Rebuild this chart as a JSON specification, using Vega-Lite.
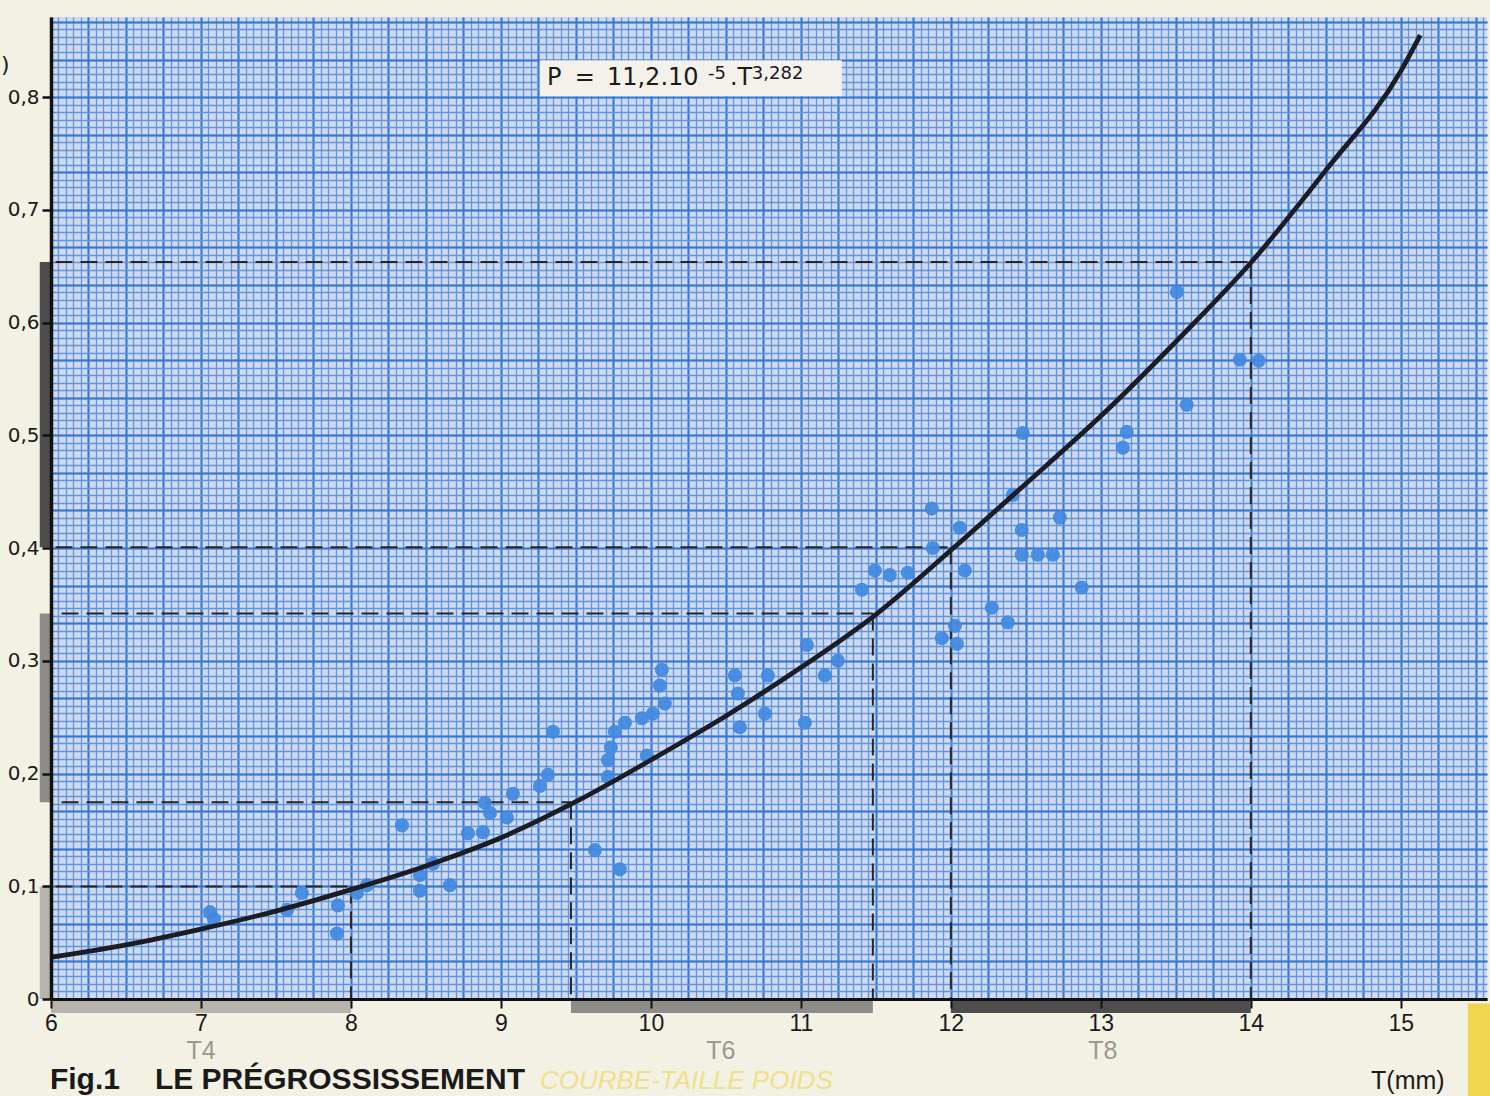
{
  "$schema": "https://vega.github.io/schema/vega-lite/v6.json",
  "width": 1436,
  "height": 982,
  "autosize": {"type": "none"},
  "padding": {"left": 51, "top": 17, "right": 3, "bottom": 97},
  "background": "#f3f0e4",
  "config": {"view": {"fill": "#cfdaf0", "stroke": null}},
  "datasets": {
    "points": [
      {"T": 7.06, "P": 0.077}, {"T": 7.087, "P": 0.071}, {"T": 7.573, "P": 0.079}, {"T": 7.673, "P": 0.094},
      {"T": 7.913, "P": 0.083}, {"T": 7.907, "P": 0.058}, {"T": 8.04, "P": 0.094}, {"T": 8.107, "P": 0.101},
      {"T": 8.34, "P": 0.154}, {"T": 8.46, "P": 0.11}, {"T": 8.46, "P": 0.096}, {"T": 8.547, "P": 0.12},
      {"T": 8.66, "P": 0.101}, {"T": 8.78, "P": 0.147}, {"T": 8.88, "P": 0.148}, {"T": 8.893, "P": 0.174},
      {"T": 8.927, "P": 0.165}, {"T": 9.04, "P": 0.161}, {"T": 9.08, "P": 0.182}, {"T": 9.26, "P": 0.189},
      {"T": 9.313, "P": 0.199}, {"T": 9.347, "P": 0.237}, {"T": 9.627, "P": 0.132}, {"T": 9.793, "P": 0.115},
      {"T": 9.713, "P": 0.197}, {"T": 9.713, "P": 0.212}, {"T": 9.733, "P": 0.223}, {"T": 9.76, "P": 0.237},
      {"T": 9.827, "P": 0.245}, {"T": 9.94, "P": 0.249}, {"T": 9.973, "P": 0.216}, {"T": 10.013, "P": 0.253},
      {"T": 10.093, "P": 0.262}, {"T": 10.06, "P": 0.278}, {"T": 10.073, "P": 0.292}, {"T": 10.56, "P": 0.287},
      {"T": 10.58, "P": 0.271}, {"T": 10.593, "P": 0.241}, {"T": 10.76, "P": 0.253}, {"T": 10.78, "P": 0.287},
      {"T": 11.027, "P": 0.245}, {"T": 11.04, "P": 0.314}, {"T": 11.16, "P": 0.287}, {"T": 11.247, "P": 0.3},
      {"T": 11.407, "P": 0.363}, {"T": 11.493, "P": 0.38}, {"T": 11.593, "P": 0.376}, {"T": 11.713, "P": 0.378},
      {"T": 11.873, "P": 0.435}, {"T": 11.88, "P": 0.4}, {"T": 11.94, "P": 0.32}, {"T": 12.027, "P": 0.331},
      {"T": 12.04, "P": 0.315}, {"T": 12.06, "P": 0.418}, {"T": 12.093, "P": 0.38}, {"T": 12.273, "P": 0.347},
      {"T": 12.38, "P": 0.334}, {"T": 12.413, "P": 0.447}, {"T": 12.473, "P": 0.416}, {"T": 12.473, "P": 0.394},
      {"T": 12.48, "P": 0.502}, {"T": 12.58, "P": 0.394}, {"T": 12.68, "P": 0.394}, {"T": 12.727, "P": 0.427},
      {"T": 12.873, "P": 0.365}, {"T": 13.147, "P": 0.489}, {"T": 13.173, "P": 0.503}, {"T": 13.507, "P": 0.627},
      {"T": 13.573, "P": 0.527}, {"T": 13.927, "P": 0.567}, {"T": 14.053, "P": 0.566}
    ],
    "curve": [
      {"T": 6.0, "P": 0.037}, {"T": 6.5, "P": 0.048}, {"T": 7.0, "P": 0.062}, {"T": 7.5, "P": 0.078},
      {"T": 8.0, "P": 0.097}, {"T": 8.5, "P": 0.118}, {"T": 9.0, "P": 0.143}, {"T": 9.5, "P": 0.175},
      {"T": 10.0, "P": 0.212}, {"T": 10.5, "P": 0.251}, {"T": 11.0, "P": 0.294}, {"T": 11.5, "P": 0.341},
      {"T": 12.0, "P": 0.398}, {"T": 12.5, "P": 0.457}, {"T": 13.0, "P": 0.517}, {"T": 13.5, "P": 0.583},
      {"T": 14.0, "P": 0.653}, {"T": 14.5, "P": 0.735}, {"T": 15.0, "P": 0.823}, {"T": 15.13, "P": 0.855}
    ],
    "hdash": [
      {"T1": 6.03, "T2": 8.0, "P": 0.0998}, {"T1": 6.07, "T2": 9.467, "P": 0.1744},
      {"T1": 6.07, "T2": 11.48, "P": 0.342}, {"T1": 6.03, "T2": 12.0, "P": 0.4006},
      {"T1": 6.03, "T2": 14.0, "P": 0.6536}
    ],
    "vdash": [
      {"T": 8.0, "P": 0.0998}, {"T": 9.467, "P": 0.1744}, {"T": 11.48, "P": 0.342},
      {"T": 12.0, "P": 0.4006}, {"T": 14.0, "P": 0.6536}
    ],
    "bottomBands": [
      {"cls": "T4", "T1": 6.0, "T2": 8.0}, {"cls": "T6", "T1": 9.467, "T2": 11.48}, {"cls": "T8", "T1": 12.0, "T2": 14.0}
    ],
    "leftBands": [
      {"cls": "T4", "P1": 0.0, "P2": 0.0998}, {"cls": "T6", "P1": 0.1744, "P2": 0.342}, {"cls": "T8", "P1": 0.4006, "P2": 0.6536}
    ],
    "classLabels": [
      {"cls": "T4", "T": 7.0}, {"cls": "T6", "T": 10.467}, {"cls": "T8", "T": 13.013}
    ],
    "eqMain": [
      {"s": "P", "T": 9.307}, {"s": "=", "T": 9.493}, {"s": "11,2.10", "T": 9.707}, {"s": ".T", "T": 10.527}
    ],
    "eqSup": [
      {"s": "-5", "T": 10.38}, {"s": "3,282", "T": 10.673}
    ],
    "titleBold": [
      {"s": "Fig.1", "T": 5.993}, {"s": "LE PRÉGROSSISSEMENT", "T": 6.693}
    ]
  },
  "layer": [
    {
      "data": {"name": "points"},
      "mark": {"type": "point", "opacity": 0},
      "encoding": {
        "x": {"field": "T", "type": "quantitative", "scale": {"domain": [6, 15.575], "nice": false, "zero": false},
              "axis": {"orient": "bottom", "values": [6, 7, 8, 9, 10, 11, 12, 13, 14, 15], "title": null, "grid": false,
                       "domainColor": "#111111", "domainWidth": 3, "tickColor": "#111111", "tickWidth": 2, "tickSize": 9,
                       "labelFont": "Liberation Sans", "labelFontSize": 23, "labelColor": "#1a1a1a", "labelPadding": 4,
                       "labelFlush": false, "labelOverlap": false, "zindex": 1}},
        "y": {"field": "P", "type": "quantitative", "scale": {"domain": [0, 0.871], "nice": false, "zero": false},
              "axis": {"orient": "left", "values": [0, 0.1, 0.2, 0.3, 0.4, 0.5, 0.6, 0.7, 0.8], "title": null, "grid": false,
                       "domainColor": "#111111", "domainWidth": 3.5, "tickColor": "#111111", "tickWidth": 2.5, "tickSize": 9,
                       "labelExpr": "datum.value == 0 ? '0' : replace(format(datum.value, '.1f'), '.', ',')",
                       "labelFont": "DejaVu Sans", "labelFontSize": 20, "labelColor": "#1a1a1a", "labelPadding": 3,
                       "labelFlush": false, "labelOverlap": false, "zindex": 1}}
      }
    },
    {
      "data": {"name": "points"},
      "mark": {"type": "point", "opacity": 0},
      "encoding": {
        "x": {"field": "T", "type": "quantitative",
              "axis": {"orient": "bottom", "tickCount": 192, "grid": true, "gridColor": "#6196dc", "gridWidth": 1.3, "gridOpacity": 1,
                       "labels": false, "ticks": false, "domain": false, "title": null, "zindex": 0}},
        "y": {"field": "P", "type": "quantitative",
              "axis": {"orient": "left", "grid": true, "gridColor": "#6196dc", "gridWidth": 1.3, "gridOpacity": 1,
                       "labels": false, "ticks": false, "domain": false, "title": null, "zindex": 0,
                       "values": [0,0.0067,0.0133,0.02,0.0267,0.0333,0.04,0.0467,0.0533,0.06,0.0667,0.0733,0.08,0.0867,0.0933,
                                  0.1,0.1067,0.1133,0.12,0.1267,0.1333,0.14,0.1467,0.1533,0.16,0.1667,0.1733,0.18,0.1867,0.1933,
                                  0.2,0.2067,0.2133,0.22,0.2267,0.2333,0.24,0.2467,0.2533,0.26,0.2667,0.2733,0.28,0.2867,0.2933,
                                  0.3,0.3067,0.3133,0.32,0.3267,0.3333,0.34,0.3467,0.3533,0.36,0.3667,0.3733,0.38,0.3867,0.3933,
                                  0.4,0.4067,0.4133,0.42,0.4267,0.4333,0.44,0.4467,0.4533,0.46,0.4667,0.4733,0.48,0.4867,0.4933,
                                  0.5,0.5067,0.5133,0.52,0.5267,0.5333,0.54,0.5467,0.5533,0.56,0.5667,0.5733,0.58,0.5867,0.5933,
                                  0.6,0.6067,0.6133,0.62,0.6267,0.6333,0.64,0.6467,0.6533,0.66,0.6667,0.6733,0.68,0.6867,0.6933,
                                  0.7,0.7067,0.7133,0.72,0.7267,0.7333,0.74,0.7467,0.7533,0.76,0.7667,0.7733,0.78,0.7867,0.7933,
                                  0.8,0.8067,0.8133,0.82,0.8267,0.8333,0.84,0.8467,0.8533,0.86,0.8667]}}
      }
    },
    {
      "data": {"name": "points"},
      "mark": {"type": "point", "opacity": 0},
      "encoding": {
        "x": {"field": "T", "type": "quantitative",
              "axis": {"orient": "bottom", "grid": true, "gridColor": "#3777cf", "gridWidth": 2, "gridOpacity": 1,
                       "labels": false, "ticks": false, "domain": false, "title": null, "zindex": 0,
                       "values": [6,6.25,6.5,6.75,7,7.25,7.5,7.75,8,8.25,8.5,8.75,9,9.25,9.5,9.75,10,10.25,10.5,10.75,11,11.25,11.5,11.75,12,12.25,12.5,12.75,13,13.25,13.5,13.75,14,14.25,14.5,14.75,15,15.25,15.5]}},
        "y": {"field": "P", "type": "quantitative",
              "axis": {"orient": "left", "grid": true, "gridColor": "#3777cf", "gridWidth": 2, "gridOpacity": 1,
                       "labels": false, "ticks": false, "domain": false, "title": null, "zindex": 0,
                       "values": [0,0.0333,0.0667,0.1,0.1333,0.1667,0.2,0.2333,0.2667,0.3,0.3333,0.3667,0.4,0.4333,0.4667,0.5,0.5333,0.5667,0.6,0.6333,0.6667,0.7,0.7333,0.7667,0.8,0.8333,0.8667]}}
      }
    },
    {
      "data": {"name": "bottomBands"},
      "mark": {"type": "rect"},
      "encoding": {
        "x": {"field": "T1", "type": "quantitative", "axis": null},
        "x2": {"field": "T2"},
        "y": {"datum": 0, "type": "quantitative", "axis": null},
        "y2": {"datum": -0.0125},
        "color": {"field": "cls", "type": "nominal", "scale": {"domain": ["T4", "T6", "T8"], "range": ["#b7b4ae", "#8e8c89", "#4e4d4d"]}, "legend": null}
      }
    },
    {
      "data": {"name": "leftBands"},
      "mark": {"type": "rect"},
      "encoding": {
        "x": {"datum": 5.925, "type": "quantitative", "axis": null},
        "x2": {"datum": 6.0},
        "y": {"field": "P1", "type": "quantitative", "axis": null},
        "y2": {"field": "P2"},
        "color": {"field": "cls", "type": "nominal", "legend": null}
      }
    },
    {
      "data": {"name": "hdash"},
      "mark": {"type": "rule", "color": "#262626", "strokeWidth": 2, "strokeDash": [17, 8]},
      "encoding": {
        "x": {"field": "T1", "type": "quantitative", "axis": null},
        "x2": {"field": "T2"},
        "y": {"field": "P", "type": "quantitative", "axis": null}
      }
    },
    {
      "data": {"name": "vdash"},
      "mark": {"type": "rule", "color": "#262626", "strokeWidth": 2, "strokeDash": [17, 8]},
      "encoding": {
        "x": {"field": "T", "type": "quantitative", "axis": null},
        "y": {"field": "P", "type": "quantitative", "axis": null},
        "y2": {"datum": 0}
      }
    },
    {
      "data": {"name": "points"},
      "mark": {"type": "circle", "size": 200, "color": "#4189df", "opacity": 0.92},
      "encoding": {
        "x": {"field": "T", "type": "quantitative", "axis": null},
        "y": {"field": "P", "type": "quantitative", "axis": null}
      }
    },
    {
      "data": {"name": "curve"},
      "mark": {"type": "line", "color": "#1c1d24", "strokeWidth": 4.8, "interpolate": "monotone"},
      "encoding": {
        "x": {"field": "T", "type": "quantitative", "axis": null},
        "y": {"field": "P", "type": "quantitative", "axis": null}
      }
    },
    {
      "data": {"values": [{}]},
      "mark": {"type": "rect", "color": "#f3f1ea"},
      "encoding": {
        "x": {"datum": 9.26, "type": "quantitative", "axis": null},
        "x2": {"datum": 11.273},
        "y": {"datum": 0.8327, "type": "quantitative", "axis": null},
        "y2": {"datum": 0.8008}
      }
    },
    {
      "data": {"name": "eqMain"},
      "mark": {"type": "text", "font": "DejaVu Sans", "fontSize": 24, "color": "#1a1a1a", "align": "left", "baseline": "alphabetic"},
      "encoding": {
        "x": {"field": "T", "type": "quantitative", "axis": null},
        "y": {"datum": 0.8106, "type": "quantitative", "axis": null},
        "text": {"field": "s"}
      }
    },
    {
      "data": {"name": "eqSup"},
      "mark": {"type": "text", "font": "DejaVu Sans", "fontSize": 18, "color": "#1a1a1a", "align": "left", "baseline": "alphabetic"},
      "encoding": {
        "x": {"field": "T", "type": "quantitative", "axis": null},
        "y": {"datum": 0.8159, "type": "quantitative", "axis": null},
        "text": {"field": "s"}
      }
    },
    {
      "data": {"name": "classLabels"},
      "mark": {"type": "text", "font": "Liberation Sans", "fontSize": 25, "color": "#9a9893", "align": "center", "baseline": "alphabetic"},
      "encoding": {
        "x": {"field": "T", "type": "quantitative", "axis": null},
        "y": {"datum": -0.0528, "type": "quantitative", "axis": null},
        "text": {"field": "cls"}
      }
    },
    {
      "data": {"name": "titleBold"},
      "mark": {"type": "text", "font": "Liberation Sans", "fontSize": 30, "fontWeight": "bold", "color": "#1a1a1a", "align": "left", "baseline": "alphabetic"},
      "encoding": {
        "x": {"field": "T", "type": "quantitative", "axis": null},
        "y": {"datum": -0.0794, "type": "quantitative", "axis": null},
        "text": {"field": "s"}
      }
    },
    {
      "data": {"values": [{}]},
      "mark": {"type": "text", "font": "Liberation Sans", "fontSize": 26, "fontStyle": "italic", "color": "#efe08c", "align": "left", "baseline": "alphabetic"},
      "encoding": {
        "x": {"datum": 9.26, "type": "quantitative", "axis": null},
        "y": {"datum": -0.0794, "type": "quantitative", "axis": null},
        "text": {"value": "COURBE-TAILLE POIDS"}
      }
    },
    {
      "data": {"values": [{}]},
      "mark": {"type": "text", "font": "Liberation Sans", "fontSize": 25, "color": "#1a1a1a", "align": "center", "baseline": "middle"},
      "encoding": {
        "x": {"datum": 15.047, "type": "quantitative", "axis": null},
        "y": {"datum": -0.0723, "type": "quantitative", "axis": null},
        "text": {"value": "T(mm)"}
      }
    },
    {
      "data": {"values": [{}]},
      "mark": {"type": "text", "font": "DejaVu Sans", "fontSize": 22, "color": "#1a1a1a", "align": "center", "baseline": "middle"},
      "encoding": {
        "x": {"datum": 5.695, "type": "quantitative", "axis": null},
        "y": {"datum": 0.8283, "type": "quantitative", "axis": null},
        "text": {"value": ")"}
      }
    },
    {
      "data": {"values": [{}]},
      "mark": {"type": "rect", "color": "#f0d64e"},
      "encoding": {
        "x": {"datum": 15.447, "type": "quantitative", "axis": null},
        "x2": {"datum": 15.7},
        "y": {"datum": -0.004, "type": "quantitative", "axis": null},
        "y2": {"datum": -0.095}
      }
    }
  ],
  "resolve": {"axis": {"x": "independent", "y": "independent"}}
}
